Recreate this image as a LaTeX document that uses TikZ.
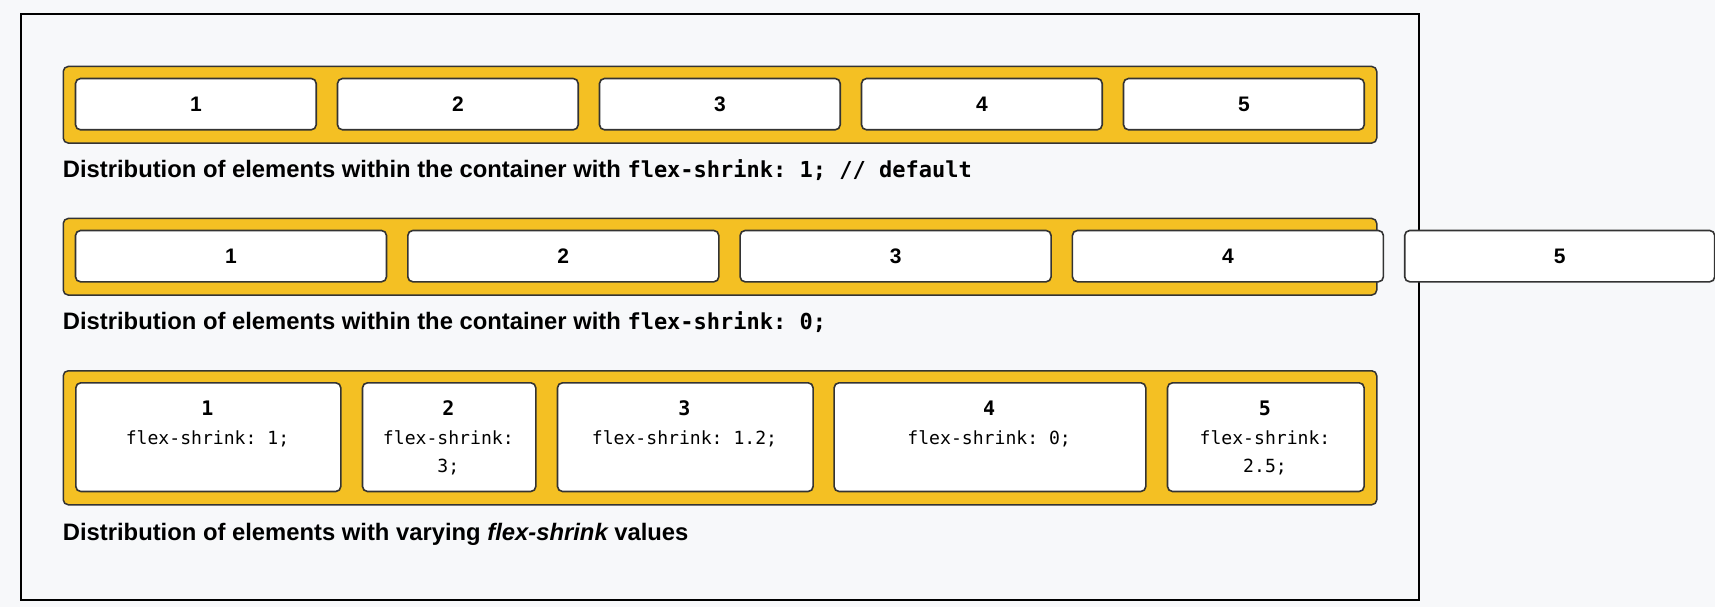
\documentclass[tikz,border=0pt]{standalone}
\usepackage{fontspec}
\setmainfont{Liberation Sans}
\newfontfamily\codefont{DejaVu Sans Mono}
\definecolor{pagebg}{HTML}{F7F8FA}
\definecolor{flexyellow}{HTML}{F4C023}
\definecolor{edgegray}{HTML}{333333}
\begin{document}
\frenchspacing
\begin{tikzpicture}[x=1pt,y=-1pt,
  flexbox/.style={draw=edgegray, line width=1.5pt, fill=flexyellow, rounded corners=5pt, inner sep=0pt, anchor=north west},
  itembox/.style={draw=edgegray, line width=1.6pt, fill=white, rounded corners=5pt, inner sep=0pt, anchor=north west, font=\fontsize{21}{25}\selectfont\bfseries},
  caption/.style={anchor=base west, inner sep=0pt, font=\fontsize{23.8}{28}\selectfont\bfseries},
  capcode/.style={font=\codefont\fontsize{22}{26}\selectfont\bfseries},
  digitlabel/.style={anchor=base, inner sep=0pt, font=\codefont\fontsize{20}{24}\selectfont\bfseries},
  codelabel/.style={anchor=base, inner sep=0pt, font=\codefont\fontsize{18.1}{22}\selectfont},
]
\useasboundingbox (0,0) rectangle (1715,607);
\fill[pagebg] (0,0) rectangle (1715,607);
\node[draw=black, line width=2pt, inner sep=0pt, anchor=north west, minimum width=1398.5pt, minimum height=585.8pt] (frame) at (19.5,12.7) {};

% Row 1
\node[flexbox, minimum width=1313.5pt, minimum height=76.6pt] (row1) at (62.5,65.7) {};
\node[itembox, minimum width=240.7pt, minimum height=51.3pt] (a1) at (74.7,77.7) {1};
\node[itembox, minimum width=240.7pt, minimum height=51.3pt] (a2) at (336.7,77.7) {2};
\node[itembox, minimum width=240.7pt, minimum height=51.3pt] (a3) at (598.7,77.7) {3};
\node[itembox, minimum width=240.7pt, minimum height=51.3pt] (a4) at (860.7,77.7) {4};
\node[itembox, minimum width=240.7pt, minimum height=51.3pt] (a5) at (1122.7,77.7) {5};
\node[caption] (cap1) at (62.7,177.8) {Distribution of elements within the container with {\codefont\fontsize{22}{26}\selectfont flex-shrink: 1; // default}};

% Row 2
\node[flexbox, minimum width=1313.5pt, minimum height=76.6pt] (row2) at (62.5,217.7) {};
\node[itembox, minimum width=311pt, minimum height=51.3pt] (b1) at (74.7,229.7) {1};
\node[itembox, minimum width=311pt, minimum height=51.3pt] (b2) at (407.0,229.7) {2};
\node[itembox, minimum width=311pt, minimum height=51.3pt] (b3) at (739.3,229.7) {3};
\node[itembox, minimum width=311pt, minimum height=51.3pt] (b4) at (1071.6,229.7) {4};
\node[itembox, minimum width=310pt, minimum height=51.3pt] (b5) at (1403.9,229.7) {5};
\node[caption] (cap2) at (62.7,329.8) {Distribution of elements within the container with {\codefont\fontsize{22}{26}\selectfont flex-shrink: 0;}};

% Row 3
\node[flexbox, minimum width=1313.5pt, minimum height=134pt] (row3) at (62.5,370) {};
\node[itembox, minimum width=265pt, minimum height=108.7pt] (c1) at (75,382) {};
\node[itembox, minimum width=173.3pt, minimum height=108.7pt] (c2) at (361.7,382) {};
\node[itembox, minimum width=255.6pt, minimum height=108.7pt] (c3) at (556.7,382) {};
\node[itembox, minimum width=311.7pt, minimum height=108.7pt] (c4) at (833.3,382) {};
\node[itembox, minimum width=196.6pt, minimum height=108.7pt] (c5) at (1166.7,382) {};

\node[digitlabel] (c1n) at (207.5,415.5) {1};
\node[codelabel] (c1t) at (207.5,444) {flex-shrink: 1;};
\node[digitlabel] (c2n) at (448.35,415.5) {2};
\node[codelabel] (c2t) at (448.35,444) {flex-shrink:};
\node[codelabel] (c2u) at (448.35,472.5) {3;};
\node[digitlabel] (c3n) at (684.5,415.5) {3};
\node[codelabel] (c3t) at (684.5,444) {flex-shrink: 1.2;};
\node[digitlabel] (c4n) at (989.15,415.5) {4};
\node[codelabel] (c4t) at (989.15,444) {flex-shrink: 0;};
\node[digitlabel] (c5n) at (1265,415.5) {5};
\node[codelabel] (c5t) at (1265,444) {flex-shrink:};
\node[codelabel] (c5u) at (1265,472.5) {2.5;};

\node[caption] (cap3) at (62.7,540) {Distribution of elements with varying {\itshape flex-shrink} values};
\end{tikzpicture}
\end{document}
